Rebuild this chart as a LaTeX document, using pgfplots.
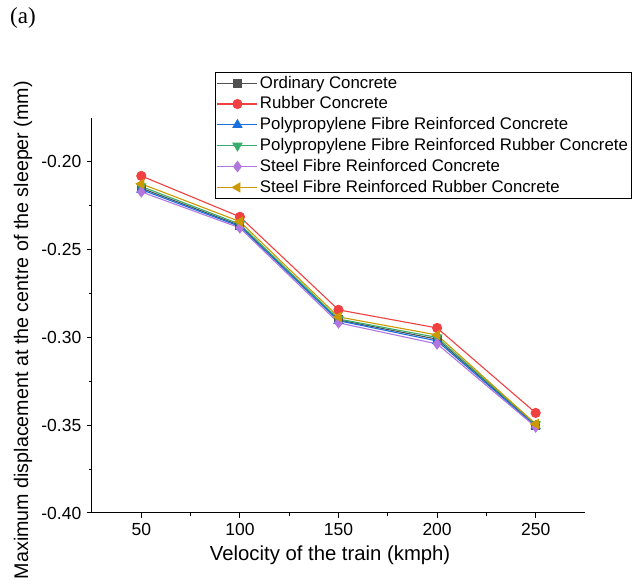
\documentclass[border=0pt]{standalone}
\usepackage{fontspec}
\setmainfont{Liberation Sans}
\newfontfamily\seriffont{Liberation Serif}
\usepackage{pgfplots}
\pgfplotsset{compat=1.18}
\definecolor{cA}{HTML}{515151}
\definecolor{cB}{HTML}{F14040}
\definecolor{cC}{HTML}{1A6FDF}
\definecolor{cD}{HTML}{37AD6B}
\definecolor{cE}{HTML}{B177DE}
\definecolor{cF}{HTML}{CC9900}
\begin{document}
\fontsize{16.5}{20}\selectfont
\begin{tikzpicture}
\begin{axis}[
  scale only axis, width=493pt, height=395pt,
  xmin=25, xmax=275, ymin=-0.40, ymax=-0.175,
  clip=false,
  axis x line*=bottom, axis y line*=left,
  axis line style={line width=1pt, black},
  xtick={50,100,150,200,250}, minor x tick num=1,
  ytick={-0.40,-0.35,-0.30,-0.25,-0.20}, minor y tick num=1,
  tick align=outside, major tick length=5pt, minor tick length=3pt,
  tick style={line width=1pt, black},
  /pgf/number format/assume math mode=true,
  yticklabel style={font=\fontsize{17.5}{20}\selectfont, /pgf/number format/.cd, fixed, fixed zerofill, precision=2},
  xticklabel style={font=\fontsize{17.5}{20}\selectfont, /pgf/number format/.cd, fixed},
  xlabel={Velocity of the train (kmph)},
  ylabel={Maximum displacement at the centre of the sleeper (mm)},
  every axis x label/.style={at={(axis description cs:0.483,-0.106)}, anchor=center, font=\fontsize{20.3}{24}\selectfont},
  every axis y label/.style={at={(axis description cs:-0.140,0.463)}, rotate=90, anchor=center, font=\fontsize{19.7}{24}\selectfont},
  legend style={at={(axis description cs:0.2495,1.1165)}, anchor=north west,
    draw=black, line width=0.8pt, font=\fontsize{16.8}{19.5}\selectfont,
    inner sep=1.5pt, row sep=2.2pt, cells={anchor=west}},
  legend image code/.code={\draw[mark repeat=2,mark phase=2] plot coordinates {(0pt,0pt) (20pt,0pt) (40pt,0pt)};},
  every axis plot/.append style={line width=1.1pt},
]
\addplot[color=cA, mark=square*, mark size=4pt] coordinates {(50,-0.2150) (100,-0.2362) (150,-0.2900) (200,-0.3010) (250,-0.3500)};
\addlegendentry{Ordinary Concrete}
\addplot[color=cB, mark=*, mark size=4.5pt] coordinates {(50,-0.2080) (100,-0.2313) (150,-0.2843) (200,-0.2946) (250,-0.3430)};
\addlegendentry{Rubber Concrete}
\addplot[color=cC, mark=triangle*, mark size=5pt] coordinates {(50,-0.2158) (100,-0.2368) (150,-0.2905) (200,-0.3020) (250,-0.3505)};
\addlegendentry{Polypropylene Fibre Reinforced Concrete}
\addplot[color=cD, mark=triangle*, mark size=5pt, mark options={rotate=180}] coordinates {(50,-0.2140) (100,-0.2355) (150,-0.2895) (200,-0.3000) (250,-0.3495)};
\addlegendentry{Polypropylene Fibre Reinforced Rubber Concrete}
\addplot[color=cE, mark=diamond*, mark size=5pt] coordinates {(50,-0.2171) (100,-0.2376) (150,-0.2917) (200,-0.3037) (250,-0.3510)};
\addlegendentry{Steel Fibre Reinforced Concrete}
\addplot[color=cF, mark=triangle*, mark size=5pt, mark options={rotate=90}] coordinates {(50,-0.2125) (100,-0.2340) (150,-0.2883) (200,-0.2986) (250,-0.3493)};
\addlegendentry{Steel Fibre Reinforced Rubber Concrete}
\node[font=\seriffont\fontsize{23}{26}\selectfont] at (axis description cs:-0.140,1.253) {(a)};
\path (axis description cs:-0.1866,-0.1722) rectangle (axis description cs:1.1075,1.2987);
\end{axis}
\end{tikzpicture}
\end{document}
